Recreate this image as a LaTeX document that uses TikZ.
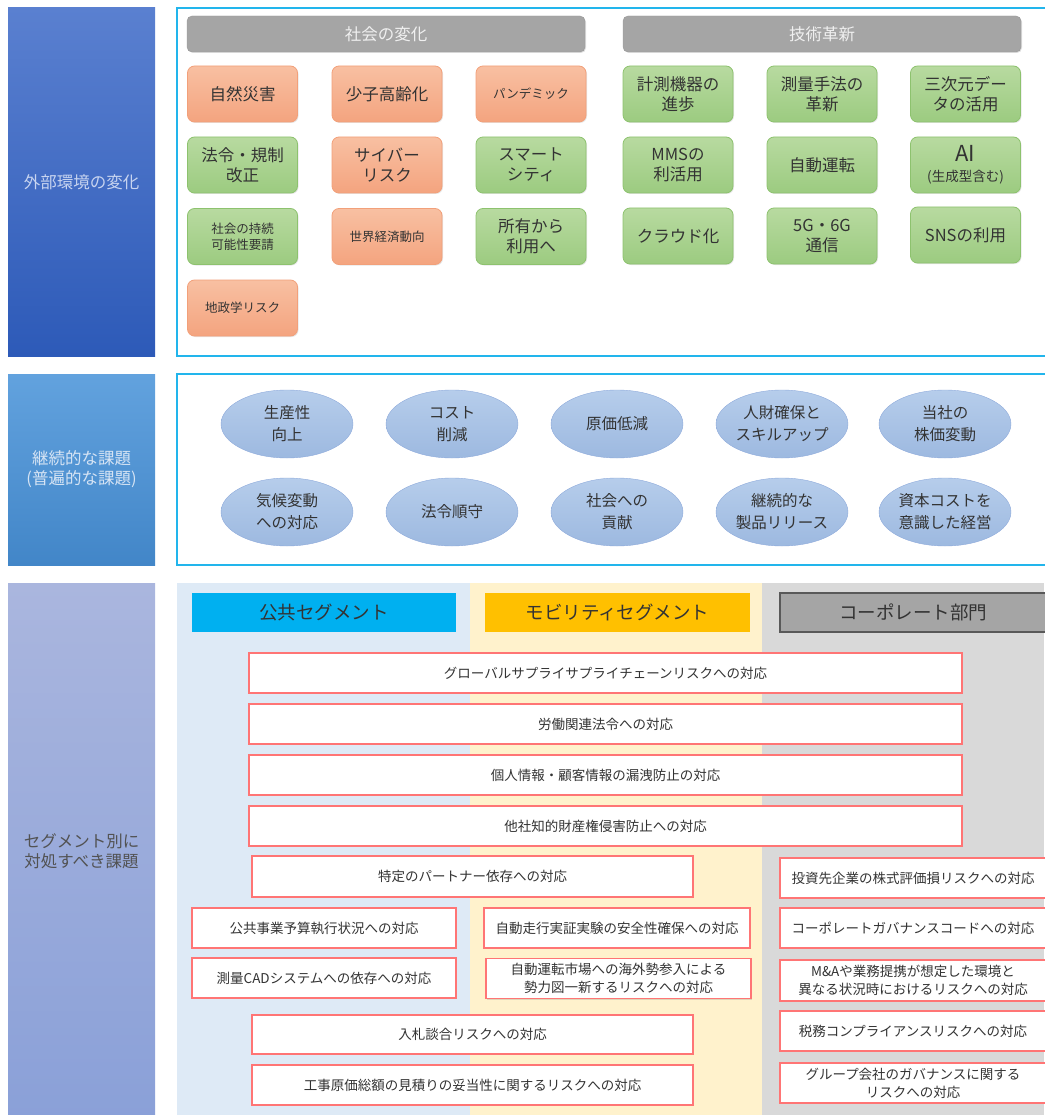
\documentclass[tikz,border=0pt]{standalone}
\usepackage{fontspec}
\setmainfont{Noto Sans CJK JP}
\usetikzlibrary{shapes.geometric}
\usetikzlibrary{shadows}
\usepackage{xcolor}

\definecolor{frameblue}{HTML}{22B5EC}
\definecolor{hdrgray}{HTML}{A5A5A5}
\definecolor{txtgray}{HTML}{333333}
\definecolor{orgtop}{HTML}{F8C0A2}
\definecolor{orgbot}{HTML}{F4A47F}
\definecolor{orgedge}{HTML}{F2A07A}
\definecolor{grntop}{HTML}{B8DAA0}
\definecolor{grnbot}{HTML}{9CCB80}
\definecolor{grnedge}{HTML}{8DC26E}
\definecolor{ovtop}{HTML}{B6CDEB}
\definecolor{ovbot}{HTML}{9DB9E0}
\definecolor{ovedge}{HTML}{8EAADB}
\definecolor{colblue}{HTML}{DEEAF6}
\definecolor{colyel}{HTML}{FFF2CC}
\definecolor{colgray}{HTML}{D9D9D9}
\definecolor{segblue}{HTML}{00B0F0}
\definecolor{segyel}{HTML}{FFC000}
\definecolor{redline}{HTML}{FF7575}
\definecolor{bartop}{HTML}{5A80D0}
\definecolor{barbot}{HTML}{2D5AB8}
\definecolor{bar2top}{HTML}{62A2DE}
\definecolor{bar2bot}{HTML}{4286C8}
\definecolor{bar3top}{HTML}{AAB6DE}
\definecolor{bar3bot}{HTML}{8AA0D8}

\begin{document}
\begin{tikzpicture}[x=1pt,y=-1pt,
  bar/.style={minimum width=147pt,align=center,inner sep=0pt,font=\fontsize{16.5}{20}\selectfont},
  hdr/.style={rounded corners=5pt,fill=hdrgray,draw=hdrgray!92!black,text=white!88!gray,
    minimum width=398pt,minimum height=36pt,font=\fontsize{16.5}{20}\selectfont,
    drop shadow={opacity=.25,shadow xshift=1pt,shadow yshift=-1pt}},
  tile/.style={rounded corners=7pt,minimum width=110pt,minimum height=56pt,align=center,
    text=txtgray,font=\fontsize{16.5}{20}\selectfont,line width=.8pt,
    drop shadow={opacity=.2,shadow xshift=1pt,shadow yshift=-1pt}},
  otile/.style={tile,draw=orgedge,top color=orgtop,bottom color=orgbot},
  gtile/.style={tile,draw=grnedge,top color=grntop,bottom color=grnbot},
  small/.style={font=\fontsize{12.5}{16}\selectfont},
  oval/.style={ellipse,minimum width=132pt,minimum height=68pt,inner sep=0pt,align=center,
    draw=ovedge,top color=ovtop,bottom color=ovbot,text=txtgray,font=\fontsize{15.5}{22}\selectfont},
  seg/.style={minimum width=265pt,minimum height=39pt,inner sep=0pt,font=\fontsize{18.5}{22}\selectfont},
  rbox/.style={draw=redline,line width=1.4pt,fill=white,minimum height=40pt,inner sep=0pt,
    align=center,text=txtgray,font=\fontsize{13.5}{18}\selectfont,
    drop shadow={opacity=.25,shadow xshift=.8pt,shadow yshift=-1.2pt}}
]
\useasboundingbox (0,0) rectangle (1044,1115);

\node[bar,minimum height=348pt,top color=bartop,bottom color=barbot,
  text={rgb,255:red,200;green,212;blue,240}] (ext) at (81.5,182) {外部環境の変化};
\node[bar,minimum height=191pt,top color=bar2top,bottom color=bar2bot,
  text={rgb,255:red,214;green,228;blue,244}] (cont) at (81.5,469.5) {継続的な課題\\(普遍的な課題)};
\node[bar,minimum height=537pt,top color=bar3top,bottom color=bar3bot,
  text=txtgray!85!white] (segl) at (81.5,851.5) {セグメント別に\\対処すべき課題};

\draw[frameblue,line width=2.5pt] (177,8) rectangle (1060,356);
\draw[frameblue,line width=2.5pt] (177,374) rectangle (1060,565);

\node[hdr] (soc) at (386,34) {社会の変化};
\node[hdr] (tech) at (822,34) {技術革新};

\node[otile] (dis) at (242.5,94) {自然災害};
\node[otile] (age) at (387,94) {少子高齢化};
\node[otile,small] (pan) at (531,94) {パンデミック};
\node[gtile] (law) at (242.5,165) {法令・規制\\改正};
\node[otile] (cyb) at (387,165) {サイバー\\リスク};
\node[gtile] (smc) at (531,165) {スマート\\シティ};
\node[gtile,small] (sus) at (242.5,236.5) {社会の持続\\可能性要請};
\node[otile,small] (eco) at (387,236.5) {世界経済動向};
\node[gtile] (own) at (531,236.5) {所有から\\利用へ};
\node[otile,small] (geo) at (242.5,308) {地政学リスク};

\node[gtile] (meas) at (678,94) {計測機器の\\進歩};
\node[gtile] (surv) at (822,94) {測量手法の\\革新};
\node[gtile] (three) at (965.5,94) {三次元デー\\タの活用};
\node[gtile] (mms) at (678,165) {MMSの\\利活用};
\node[gtile] (auto) at (822,165) {自動運転};
\node[gtile] (ai) at (965.5,165) {{\fontsize{22}{24}\selectfont AI}\\{\fontsize{13.5}{16}\selectfont (生成型含む)}};
\node[gtile] (cloud) at (678,236) {クラウド化};
\node[gtile] (fiveg) at (822,236) {5G・6G\\通信};
\node[gtile] (sns) at (965.5,235) {SNSの利用};

\node[oval] (prod) at (287,424) {生産性\\向上};
\node[oval] (cost) at (452,424) {コスト\\削減};
\node[oval] (cred) at (617,424) {原価低減};
\node[oval] (hr) at (782,424) {人財確保と\\スキルアップ};
\node[oval] (stock) at (945,424) {当社の\\株価変動};
\node[oval] (clim) at (287,512) {気候変動\\への対応};
\node[oval] (comp) at (452,512) {法令順守};
\node[oval] (contr) at (617,512) {社会への\\貢献};
\node[oval] (rel) at (782,512) {継続的な\\製品リリース};
\node[oval] (capc) at (945,512) {資本コストを\\意識した経営};

\fill[colblue] (177,583) rectangle (470,1115);
\fill[colyel] (470,583) rectangle (762,1115);
\fill[colgray] (762,583) rectangle (1044,1115);

\node[seg,fill=segblue,minimum width=264pt,text=txtgray] (pubh) at (324,612.5) {公共セグメント};
\node[seg,fill=segyel,text=txtgray] (mobh) at (617.5,612.5) {モビリティセグメント};
\node[seg,fill=hdrgray,draw=black!65,line width=1.2pt,minimum width=266pt,text=txtgray] (corph) at (913,612.5) {コーポレート部門};

\node[rbox,minimum width=713pt] (glob) at (605.5,673) {グローバルサプライサプライチェーンリスクへの対応};
\node[rbox,minimum width=713pt] (labor) at (605.5,724) {労働関連法令への対応};
\node[rbox,minimum width=713pt] (priv) at (605.5,775) {個人情報・顧客情報の漏洩防止の対応};
\node[rbox,minimum width=713pt] (ip) at (605.5,826) {他社知的財産権侵害防止への対応};
\node[rbox,minimum width=441pt,minimum height=41pt] (part) at (472.5,876.5) {特定のパートナー依存への対応};
\node[rbox,minimum width=264pt] (budg) at (324,928) {公共事業予算執行状況への対応};
\node[rbox,minimum width=264pt] (cad) at (324,978) {測量CADシステムへの依存への対応};
\node[rbox,minimum width=266pt] (test) at (617,928) {自動走行実証実験の安全性確保への対応};
\node[rbox,minimum width=265pt] (mkt) at (618.5,978.5) {自動運転市場への海外勢参入による\\勢力図一新するリスクへの対応};
\node[rbox,minimum width=441pt,minimum height=39pt] (bid) at (472.5,1034.5) {入札談合リスクへの対応};
\node[rbox,minimum width=441pt] (est) at (472.5,1085) {工事原価総額の見積りの妥当性に関するリスクへの対応};
\node[rbox,minimum width=266pt] (inv) at (913,878) {投資先企業の株式評価損リスクへの対応};
\node[rbox,minimum width=266pt] (cgc) at (913,928) {コーポレートガバナンスコードへの対応};
\node[rbox,minimum width=266pt,minimum height=41pt] (ma) at (913,980.5) {M\&Aや業務提携が想定した環境と\\異なる状況時におけるリスクへの対応};
\node[rbox,minimum width=266pt] (tax) at (913,1031) {税務コンプライアンスリスクへの対応};
\node[rbox,minimum width=266pt] (grp) at (913,1083) {グループ会社のガバナンスに関する\\リスクへの対応};
\end{tikzpicture}
\end{document}
